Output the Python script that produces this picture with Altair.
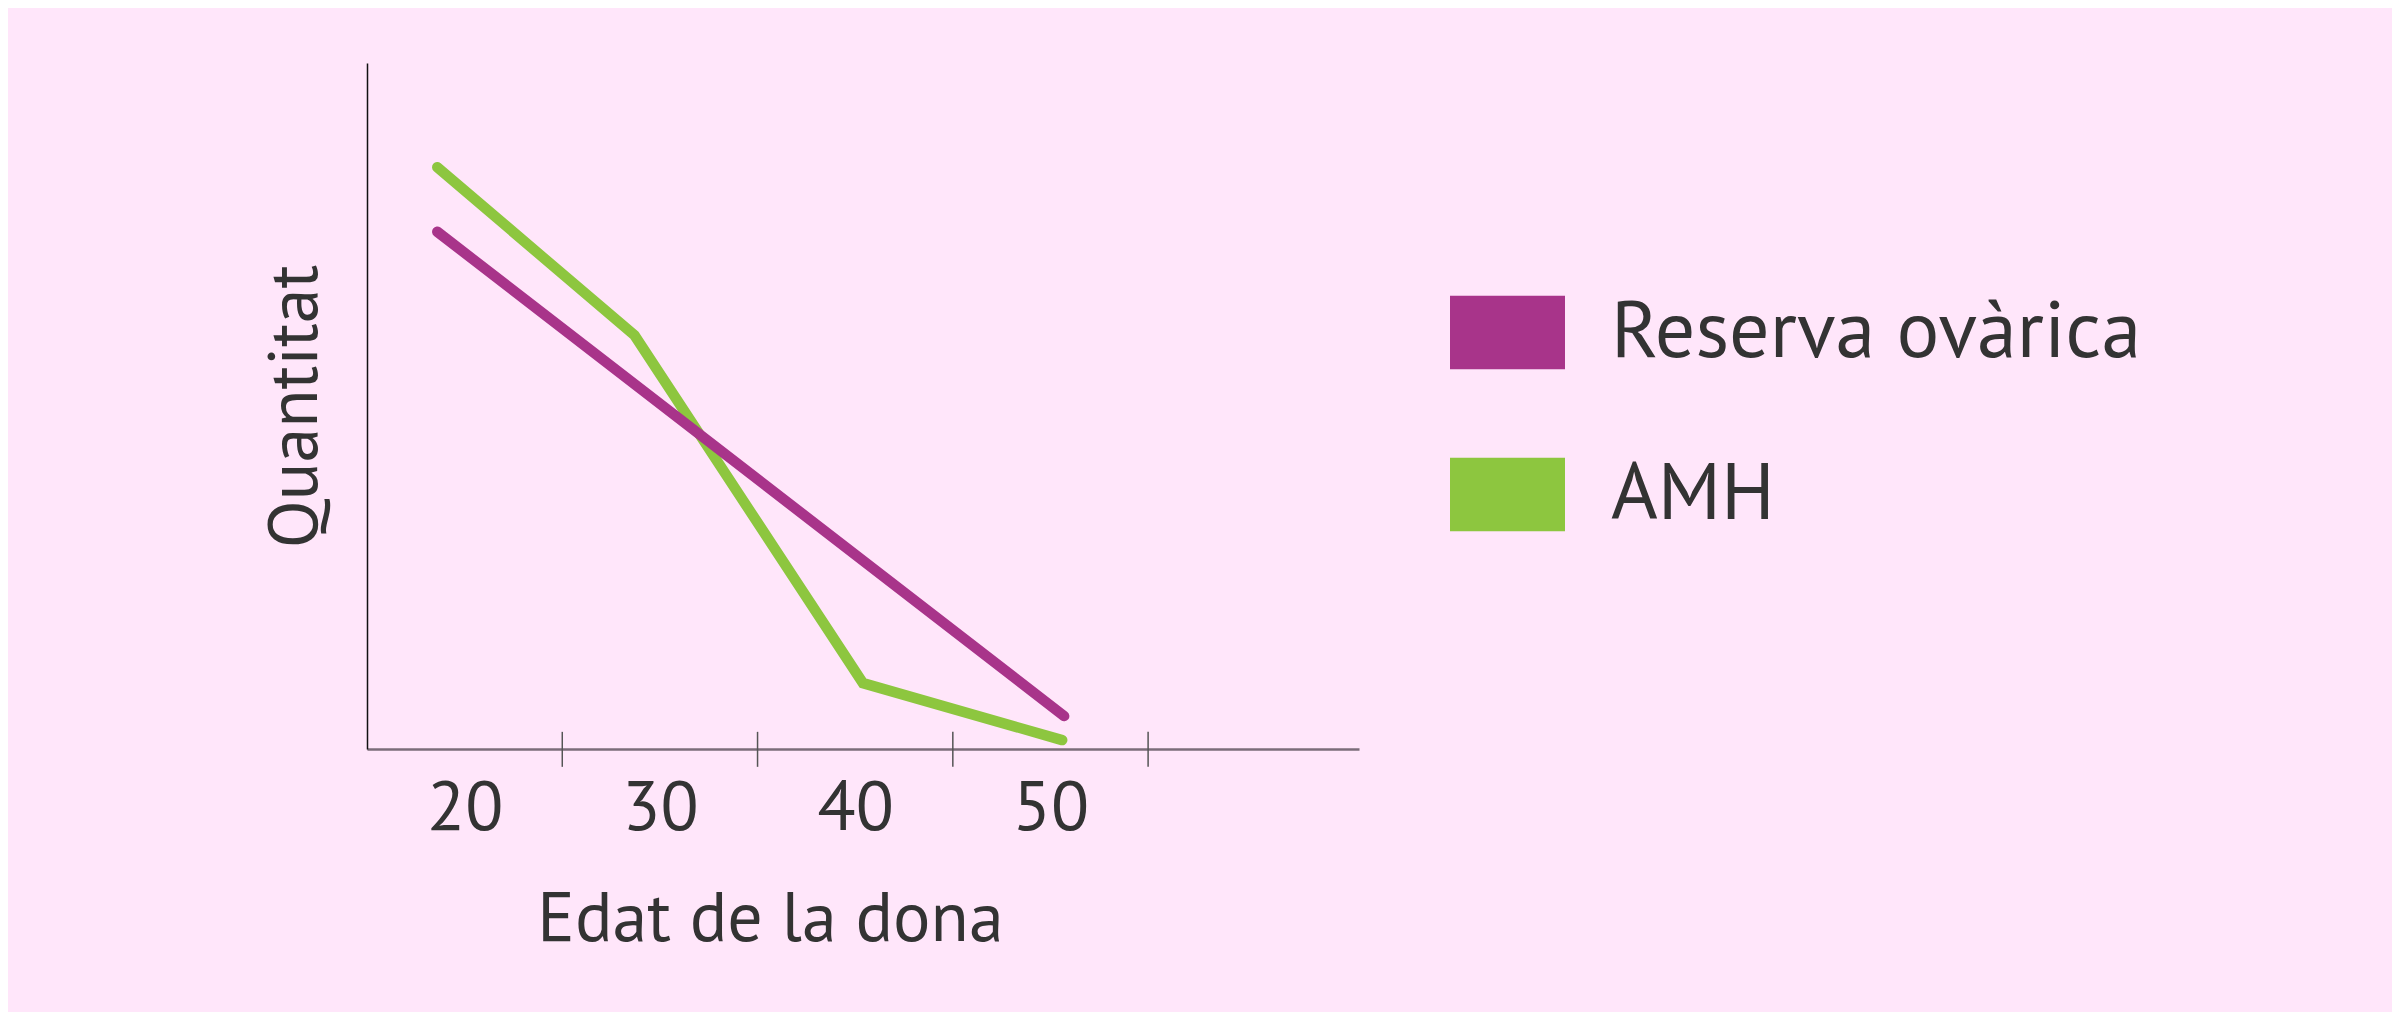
import altair as alt
import pandas as pd

# series (x = age, y = relative amount 0-100)
series_names = ["Reserva ovàrica", "AMH"]
series_colors = ["#A8348A", "#8DC63F"]

reserva_age = [18.6, 50.7]
reserva_val = [75.4, 4.8]

amh_age = [18.6, 28.7, 40.4, 50.6]
amh_val = [84.8, 60.3, 9.6, 1.3]

tick_positions = [25, 35, 45, 55]
label_values = [20, 30, 40, 50]

FONT = "PT Sans, Liberation Sans Narrow, DejaVu Sans Condensed, Roboto, sans-serif"
TEXT = "#333333"
BG = "#FFE6FA"

# AMH first so the purple line is drawn on top of it
lines = pd.concat([
    pd.DataFrame({"edat": amh_age, "valor": amh_val, "serie": series_names[1], "ordre": range(len(amh_age))}),
    pd.DataFrame({"edat": reserva_age, "valor": reserva_val, "serie": series_names[0], "ordre": range(len(reserva_age))}),
])
ticks = pd.DataFrame({"edat": tick_positions})

x_scale = alt.Scale(domain=[15, 65.8], nice=False, zero=False)
y_scale = alt.Scale(domain=[0, 100], nice=False)
# line colours: domain comes from the data (sorted), so it is not merged with the legend scale
stroke_scale = alt.Scale(range=[series_colors[1], series_colors[0]])
fill_scale = alt.Scale(domain=series_names, range=series_colors)

legend_path = "M-1,-0.64L1,-0.64L1,0.64L-1,0.64Z"

x_axis = alt.Axis(values=label_values, ticks=False, tickSize=0, grid=False,
                  labelFontSize=70, labelPadding=25, labelColor=TEXT,
                  labelFont=FONT, domainColor="#7B6C79", domainWidth=2.5,
                  titleFont=FONT, titleFontSize=70, titleFontWeight="normal",
                  titleColor=TEXT, titleX=403, titleY=191,
                  titleBaseline="alphabetic", titleAlign="center")
y_axis = alt.Axis(labels=False, ticks=False, grid=False,
                  domainColor="#111111", domainWidth=1.5,
                  titleFont=FONT, titleFontSize=70, titleFontWeight="normal",
                  titleColor=TEXT, titleX=-51, titleY=343, titleAngle=-90,
                  titleBaseline="alphabetic", titleAlign="center")

line_chart = alt.Chart(lines).mark_line(strokeWidth=10.5, strokeCap="round").encode(
    x=alt.X("edat:Q", scale=x_scale, title="Edat de la dona", axis=x_axis),
    y=alt.Y("valor:Q", scale=y_scale, title="Quantitat", axis=y_axis),
    stroke=alt.Stroke("serie:N", scale=stroke_scale, legend=None),
    order="ordre:Q",
)

# tiny filled points hidden inside the lines, only there to give the legend filled swatches
legend_points = alt.Chart(lines).mark_point(filled=True, opacity=1, size=10).encode(
    x=alt.X("edat:Q", scale=x_scale),
    y=alt.Y("valor:Q", scale=y_scale),
    fill=alt.Fill("serie:N", scale=fill_scale, title="",
                  legend=alt.Legend(orient="none", legendX=1083, legendY=212,
                                    symbolType=legend_path, symbolSize=13225,
                                    symbolStrokeWidth=0, symbolOpacity=1,
                                    labelFontSize=80, labelFont=FONT,
                                    labelColor=TEXT, labelOffset=46,
                                    labelLimit=1000)),
)

tick_rules = alt.Chart(ticks).mark_rule(color="#555555", strokeWidth=1.5).encode(
    x=alt.X("edat:Q", scale=x_scale),
    y=alt.datum(-2.6),
    y2=alt.datum(2.5),
)

chart = alt.layer(line_chart, legend_points, tick_rules).properties(
    width=992,
    height=686,
    autosize=alt.AutoSizeParams(type="none"),
    padding={"left": 359, "top": 55, "right": 1033, "bottom": 263},
    background=BG,
).configure_view(stroke=None).configure_legend(rowPadding=64)

chart.save("out.html", embed_options={"renderer": "svg", "actions": False})
